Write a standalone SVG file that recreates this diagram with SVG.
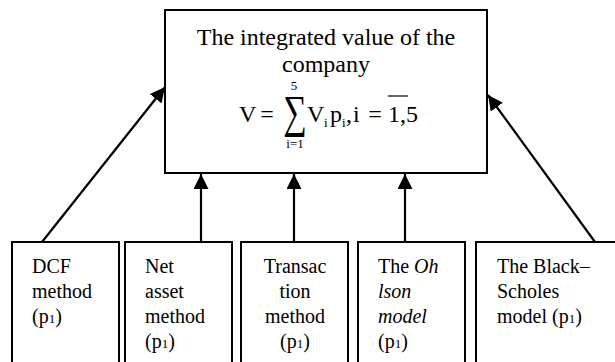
<svg xmlns="http://www.w3.org/2000/svg" width="615" height="362" viewBox="0 0 615 362">
  <style>
    .box { fill: #ffffff; stroke: #000000; stroke-width: 2; }
    .t { font-family: "Liberation Serif", "Times New Roman", serif; fill: #000000; }
    .big { font-size: 24px; }
    .lbl { font-size: 20px; }
    .sm { font-size: 13px; }
    .c { text-anchor: middle; }
    .conn { stroke: #000000; stroke-width: 2.2; fill: none; marker-end: url(#arrow); }
  </style>
  <defs>
    <marker id="arrow" markerUnits="userSpaceOnUse" markerWidth="15" markerHeight="15" refX="15" refY="7.5" orient="auto">
      <path d="M0,0 L15,7.5 L0,15 Z" fill="#000000"/>
    </marker>
  </defs>
  <rect width="615" height="362" fill="#ffffff"/>

  <!-- Target node: integrated value with its formula -->
  <g id="integrated-value">
    <rect class="box" x="165" y="10" width="322" height="163"/>
    <text class="t big c" x="326" y="45">The integrated value of the</text>
    <text class="t big c" x="326" y="72">company</text>
    <text class="t big" x="239" y="122">V</text>
    <text class="t big c" x="267" y="122">=</text>
    <text class="t c" x="295" y="127" font-size="33" transform="translate(295,127) scale(1,1.4) translate(-295,-127)">∑</text>
    <text class="t sm c" x="294" y="90">5</text>
    <text class="t sm c" x="295" y="148">i=1</text>
    <text class="t big" x="307" y="122">V</text>
    <text class="t sm" x="324" y="127">i</text>
    <text class="t big" x="330" y="122">p</text>
    <text class="t sm" x="342" y="127">i</text>
    <text class="t big" x="346" y="122">,</text>
    <text class="t big" x="353" y="122">i</text>
    <text class="t big c" x="375" y="122">=</text>
    <text class="t big" x="388" y="122">1,5</text>
    <line x1="388" y1="96" x2="408" y2="96" stroke="#000000" stroke-width="1.2"/>
  </g>

  <!-- Source nodes: valuation methods -->
  <g id="dcf">
    <rect class="box" x="12" y="242" width="107" height="130"/>
    <text class="t lbl" x="32" y="273">DCF</text>
    <text class="t lbl" x="32" y="298">method</text>
    <text class="t lbl" x="32" y="323">(p<tspan font-size="13">1</tspan>)</text>
  </g>

  <g id="net-asset">
    <rect class="box" x="125" y="242" width="107" height="130"/>
    <text class="t lbl" x="145" y="273">Net</text>
    <text class="t lbl" x="145" y="298">asset</text>
    <text class="t lbl" x="145" y="323">method</text>
    <text class="t lbl" x="145" y="348">(p<tspan font-size="13">1</tspan>)</text>
  </g>

  <g id="transaction">
    <rect class="box" x="241" y="242" width="107" height="130"/>
    <text class="t lbl c" x="295" y="273">Transac</text>
    <text class="t lbl c" x="295" y="298">tion</text>
    <text class="t lbl c" x="295" y="323">method</text>
    <text class="t lbl c" x="295" y="348">(p<tspan font-size="13">1</tspan>)</text>
  </g>

  <g id="ohlson">
    <rect class="box" x="358" y="242" width="107" height="130"/>
    <text class="t lbl" x="378" y="273">The <tspan font-style="italic">Oh</tspan></text>
    <text class="t lbl" x="378" y="298" font-style="italic">lson</text>
    <text class="t lbl" x="378" y="323" font-style="italic">model</text>
    <text class="t lbl" x="378" y="348">(p<tspan font-size="13">1</tspan>)</text>
  </g>

  <g id="black-scholes">
    <rect class="box" x="476" y="242" width="150" height="130"/>
    <text class="t lbl" x="497" y="273">The Black–</text>
    <text class="t lbl" x="497" y="298">Scholes</text>
    <text class="t lbl" x="497" y="323">model (p<tspan font-size="13">1</tspan>)</text>
  </g>

  <!-- Connectors -->
  <g id="connectors">
    <line class="conn" x1="42" y1="242" x2="165" y2="87"/>
    <line class="conn" x1="201" y1="242" x2="201" y2="174"/>
    <line class="conn" x1="294" y1="242" x2="294" y2="174"/>
    <line class="conn" x1="405" y1="242" x2="405" y2="174"/>
    <line class="conn" x1="595" y1="242" x2="488" y2="95"/>
  </g>
</svg>
